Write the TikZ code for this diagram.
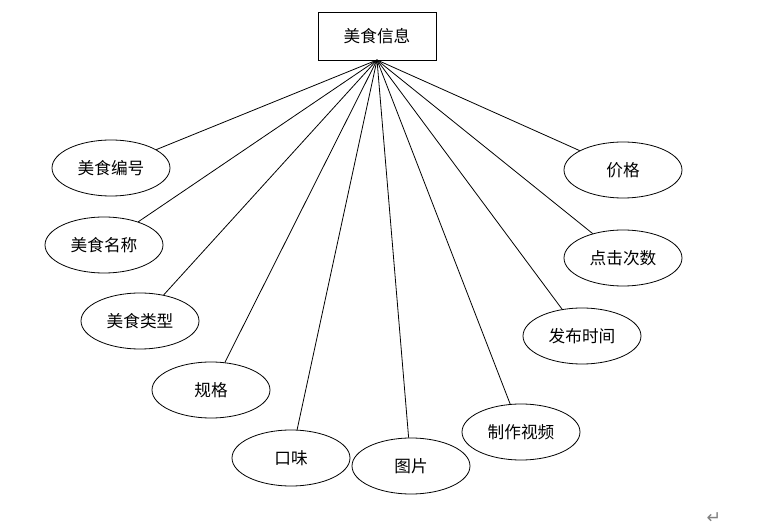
\documentclass[tikz,border=0pt]{standalone}
\usepackage{fontspec}
\setmainfont{Noto Sans CJK SC}
\usetikzlibrary{shapes.geometric}
\newfontfamily\symfont{DejaVu Sans}

\begin{document}
\begin{tikzpicture}[
    x=0.75pt, y=-0.75pt,
    entity/.style={rectangle, draw, line width=0.7pt, minimum width=88.5pt,
                   minimum height=36pt, inner sep=0pt},
    attr/.style={ellipse, draw, line width=0.6pt, minimum width=88.5pt,
                 minimum height=42pt, inner sep=0pt},
    link/.style={line width=0.6pt},
    every node/.style={font=\fontsize{12.5}{14}\selectfont}
]
\useasboundingbox (0,0) rectangle (758,527);

% Entity
\node[entity] (food) at (377,36) {美食信息};
\coordinate (hub) at (377,60);

% Attributes
\node[attr] (fid) at (111,168) {美食编号};
\node[attr] (fname) at (104,245) {美食名称};
\node[attr] (ftype) at (140,321) {美食类型};
\node[attr] (spec) at (211,390) {规格};
\node[attr] (taste) at (291,458) {口味};
\node[attr] (pic) at (411,466) {图片};
\node[attr] (video) at (521,432) {制作视频};
\node[attr] (ptime) at (582,336) {发布时间};
\node[attr] (clicks) at (623,258) {点击次数};
\node[attr] (price) at (623,170) {价格};

% Connections
\foreach \a in {fid, fname, ftype, spec, taste, pic, video, ptime, clicks, price}
    \draw[link] (hub) -- (\a);

% Paragraph mark
\node[text=gray, font=\symfont\fontsize{13}{14}\selectfont] (mark) at (714,518) {↵};

\end{tikzpicture}
\end{document}
